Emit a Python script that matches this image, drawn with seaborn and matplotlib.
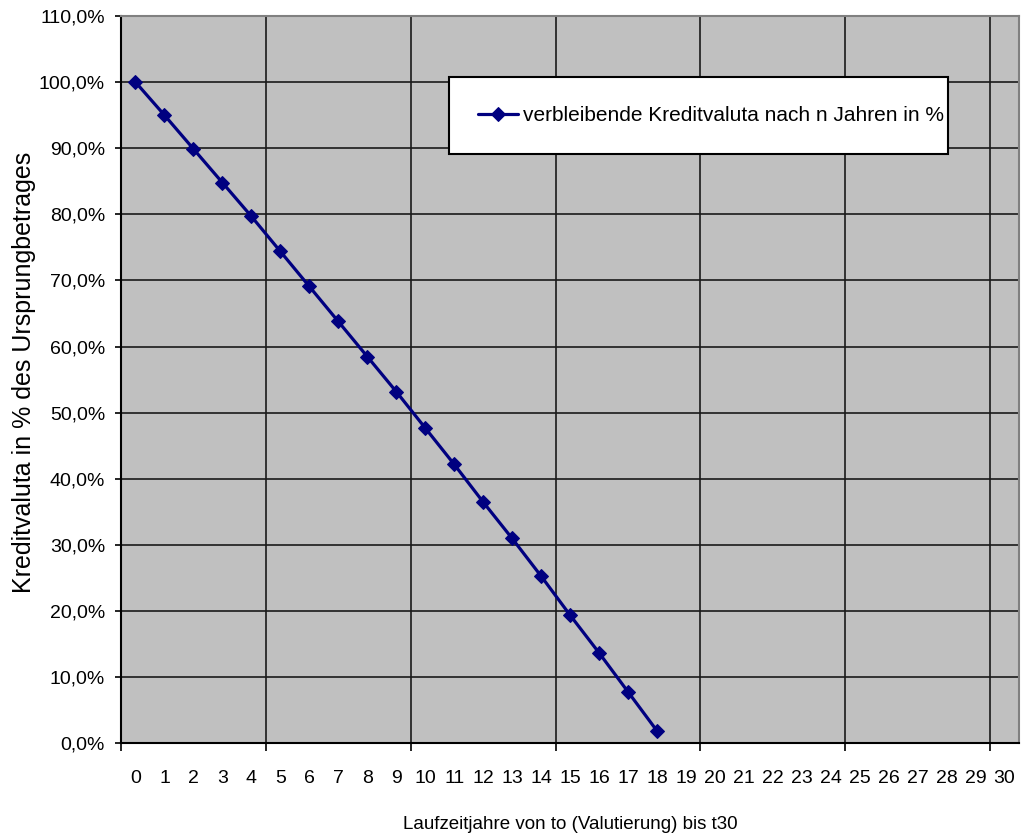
import matplotlib
matplotlib.use("Agg")
import matplotlib.pyplot as plt
import seaborn as sns
import numpy as np
import pandas as pd
from matplotlib.ticker import FixedLocator, FuncFormatter

# ---- data ----
years = list(range(0, 19))
remaining_pct = [100.0, 95.0, 89.9, 84.8, 79.7, 74.4, 69.1, 63.8, 58.5, 53.2,
                 47.7, 42.2, 36.5, 31.0, 25.3, 19.4, 13.7, 7.8, 1.9]
x_tick_labels = [str(i) for i in range(0, 31)]
y_ticks = [0, 10, 20, 30, 40, 50, 60, 70, 80, 90, 100, 110]
series_label = "verbleibende Kreditvaluta nach n Jahren in %"
x_label = "Laufzeitjahre von to (Valutierung) bis t30"
y_label = "Kreditvaluta in % des Ursprungbetrages"

df = pd.DataFrame({"Jahr": years, "Wert": remaining_pct})

sns.set_style("white")
plt.rcParams["font.family"] = ["Liberation Sans", "DejaVu Sans"]
plt.rcParams["text.color"] = "black"
plt.rcParams["axes.labelcolor"] = "black"

W, H = 1030, 834
fig = plt.figure(figsize=(W / 100, H / 100), dpi=100)
ax_l, ax_r, ax_t, ax_b = 121, 1019, 16, 743.3
ax = fig.add_axes([ax_l / W, 1 - ax_b / H, (ax_r - ax_l) / W, (ax_b - ax_t) / H])
ax.set_facecolor("#C0C0C0")

sns.lineplot(data=df, x="Jahr", y="Wert", ax=ax, color="#000080", linewidth=2.3,
             marker="D", markersize=7, markeredgecolor="#000080",
             markerfacecolor="#000080", label=series_label, zorder=5)

ax.set_xlim(-0.5, 30.5)
ax.set_ylim(0, 110)

# x ticks: labels at integers, tick marks/grid at category boundaries
ax.set_xticks(range(0, 31))
ax.set_xticklabels(x_tick_labels)
bounds = [-0.5, 4.5, 9.5, 14.5, 19.5, 24.5, 29.5]
ax.xaxis.set_minor_locator(FixedLocator(bounds))
ax.tick_params(axis="x", which="major", length=0, pad=19, labelsize=14, colors="black")
ax.tick_params(axis="x", which="minor", length=6, width=1.2, direction="out",
               color="black", bottom=True)
for b in bounds[1:]:
    ax.axvline(b, color="#1a1a1a", linewidth=1.2, zorder=1)

ax.set_yticks(y_ticks)
ax.yaxis.set_major_formatter(FuncFormatter(lambda v, p: f"{v:.1f}".replace(".", ",") + "%"))
ax.tick_params(axis="y", which="major", length=4.5, width=1.2, direction="out",
               pad=7, labelsize=14, colors="black", left=True)
for yv in y_ticks[1:]:
    ax.axhline(yv, color="#1a1a1a", linewidth=1.2, zorder=1)

for s in ["left", "bottom"]:
    ax.spines[s].set_color("black")
    ax.spines[s].set_linewidth(1.5)
for s in ["top", "right"]:
    ax.spines[s].set_color("#808080")
    ax.spines[s].set_linewidth(1.5)

ax.set_xlabel(x_label, fontsize=13.5, color="black")
ax.xaxis.label.set_va("baseline")
ax.xaxis.set_label_coords(0.5, -0.1178)

ax.set_ylabel(y_label, fontsize=18, color="black")
ax.yaxis.label.set_va("center")
ax.yaxis.set_label_coords(-0.108, 0.51)

leg = ax.legend(loc="upper left", bbox_to_anchor=(0.3653, 0.8034, 0.5557, 0.1126),
                mode="expand", fontsize=15, frameon=True, fancybox=False,
                borderpad=1.4, handlelength=1.9, handletextpad=0.25,
                borderaxespad=0)
for t in leg.get_texts():
    t.set_color("black")
leg.get_frame().set_edgecolor("black")
leg.get_frame().set_linewidth(1.5)
leg.get_frame().set_facecolor("white")
leg.get_frame().set_alpha(1)

fig.savefig("out.png", dpi=100, facecolor="white")
